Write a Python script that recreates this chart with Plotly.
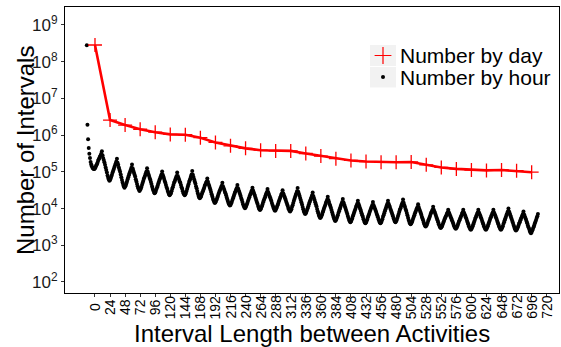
import plotly.graph_objects as go

# ---------------- data ----------------
# Number of intervals counted by day (x = interval length in hours, log10 of count)
day_x = [0, 24, 48, 72, 96, 120, 144, 168, 192, 216, 240, 264, 288, 312, 336,
         360, 384, 408, 432, 456, 480, 504, 528, 552, 576, 600, 624, 648, 672, 696]
day_log10 = [8.455, 6.41, 6.275, 6.16, 6.08, 6.02, 6.01, 5.93, 5.80, 5.71,
             5.64, 5.59, 5.57, 5.57, 5.50, 5.43, 5.36, 5.31, 5.28, 5.26,
             5.26, 5.27, 5.19, 5.12, 5.08, 5.05, 5.04, 5.05, 5.03, 4.99]

# Number of intervals counted by hour (log10 of count), one row per day, 24 hours each
hour_log10_by_day = [
    [8.45, 6.28, 5.89, 5.65, 5.49, 5.38, 5.27, 5.20, 5.15, 5.11, 5.09, 5.08, 5.08, 5.10, 5.13, 5.17, 5.21, 5.25, 5.30, 5.34, 5.38, 5.42, 5.45, 5.49],
    [5.56, 5.45, 5.38, 5.32, 5.26, 5.19, 5.12, 5.05, 4.98, 4.90, 4.84, 4.79, 4.76, 4.78, 4.82, 4.87, 4.92, 4.98, 5.03, 5.08, 5.13, 5.18, 5.23, 5.28],
    [5.36, 5.25, 5.19, 5.12, 5.06, 5.00, 4.93, 4.85, 4.78, 4.71, 4.65, 4.60, 4.57, 4.60, 4.63, 4.68, 4.74, 4.80, 4.85, 4.91, 4.96, 5.01, 5.06, 5.11],
    [5.20, 5.10, 5.04, 4.98, 4.93, 4.87, 4.80, 4.74, 4.67, 4.61, 4.55, 4.51, 4.48, 4.51, 4.54, 4.59, 4.65, 4.70, 4.76, 4.82, 4.86, 4.91, 4.96, 5.01],
    [5.10, 5.01, 4.95, 4.90, 4.84, 4.79, 4.73, 4.67, 4.60, 4.54, 4.49, 4.45, 4.42, 4.44, 4.48, 4.53, 4.58, 4.63, 4.69, 4.74, 4.79, 4.83, 4.88, 4.93],
    [5.01, 4.92, 4.87, 4.82, 4.76, 4.71, 4.65, 4.59, 4.54, 4.48, 4.43, 4.39, 4.36, 4.39, 4.42, 4.47, 4.53, 4.58, 4.64, 4.70, 4.74, 4.79, 4.84, 4.89],
    [4.98, 4.89, 4.84, 4.79, 4.74, 4.70, 4.64, 4.58, 4.53, 4.47, 4.42, 4.39, 4.36, 4.39, 4.43, 4.48, 4.54, 4.60, 4.66, 4.72, 4.77, 4.82, 4.88, 4.93],
    [5.02, 4.92, 4.86, 4.80, 4.74, 4.68, 4.61, 4.55, 4.48, 4.41, 4.35, 4.31, 4.28, 4.30, 4.33, 4.38, 4.43, 4.47, 4.52, 4.57, 4.62, 4.66, 4.70, 4.74],
    [4.82, 4.73, 4.67, 4.62, 4.57, 4.51, 4.45, 4.39, 4.33, 4.27, 4.22, 4.18, 4.15, 4.17, 4.21, 4.25, 4.30, 4.35, 4.40, 4.45, 4.49, 4.54, 4.58, 4.62],
    [4.70, 4.61, 4.56, 4.51, 4.46, 4.42, 4.36, 4.30, 4.25, 4.19, 4.14, 4.11, 4.08, 4.10, 4.14, 4.18, 4.23, 4.28, 4.33, 4.38, 4.43, 4.47, 4.52, 4.56],
    [4.64, 4.55, 4.50, 4.45, 4.40, 4.35, 4.29, 4.24, 4.18, 4.12, 4.07, 4.04, 4.01, 4.03, 4.07, 4.11, 4.16, 4.21, 4.26, 4.31, 4.36, 4.40, 4.45, 4.49],
    [4.57, 4.49, 4.44, 4.39, 4.34, 4.29, 4.23, 4.18, 4.13, 4.07, 4.02, 3.98, 3.96, 3.98, 4.02, 4.06, 4.11, 4.17, 4.22, 4.27, 4.31, 4.36, 4.41, 4.45],
    [4.53, 4.45, 4.40, 4.35, 4.31, 4.26, 4.21, 4.15, 4.10, 4.05, 4.00, 3.96, 3.94, 3.96, 4.00, 4.04, 4.09, 4.14, 4.19, 4.24, 4.29, 4.33, 4.38, 4.42],
    [4.50, 4.42, 4.37, 4.33, 4.28, 4.23, 4.18, 4.13, 4.08, 4.02, 3.98, 3.94, 3.92, 3.95, 3.98, 4.04, 4.09, 4.15, 4.21, 4.27, 4.32, 4.37, 4.42, 4.47],
    [4.56, 4.46, 4.40, 4.35, 4.29, 4.23, 4.17, 4.11, 4.04, 3.98, 3.92, 3.88, 3.85, 3.87, 3.91, 3.96, 4.01, 4.06, 4.12, 4.17, 4.22, 4.26, 4.31, 4.36],
    [4.44, 4.34, 4.29, 4.23, 4.17, 4.12, 4.06, 3.99, 3.93, 3.87, 3.81, 3.77, 3.74, 3.76, 3.80, 3.84, 3.90, 3.95, 4.00, 4.05, 4.10, 4.15, 4.19, 4.24],
    [4.32, 4.23, 4.18, 4.12, 4.07, 4.02, 3.96, 3.90, 3.84, 3.78, 3.73, 3.69, 3.66, 3.68, 3.72, 3.77, 3.82, 3.88, 3.93, 3.98, 4.03, 4.08, 4.13, 4.18],
    [4.26, 4.17, 4.12, 4.07, 4.02, 3.97, 3.91, 3.86, 3.80, 3.74, 3.69, 3.66, 3.63, 3.65, 3.69, 3.73, 3.79, 3.84, 3.89, 3.94, 3.99, 4.04, 4.08, 4.13],
    [4.21, 4.13, 4.08, 4.03, 3.98, 3.93, 3.87, 3.82, 3.77, 3.71, 3.66, 3.62, 3.60, 3.62, 3.66, 3.70, 3.76, 3.81, 3.86, 3.91, 3.96, 4.01, 4.05, 4.10],
    [4.18, 4.10, 4.05, 4.01, 3.96, 3.91, 3.86, 3.81, 3.76, 3.70, 3.66, 3.62, 3.60, 3.62, 3.66, 3.71, 3.77, 3.82, 3.87, 3.93, 3.98, 4.03, 4.08, 4.13],
    [4.21, 4.13, 4.08, 4.04, 3.99, 3.94, 3.89, 3.84, 3.79, 3.73, 3.69, 3.65, 3.63, 3.66, 3.69, 3.74, 3.80, 3.85, 3.91, 3.97, 4.01, 4.06, 4.11, 4.16],
    [4.25, 4.16, 4.10, 4.05, 3.99, 3.94, 3.88, 3.82, 3.75, 3.69, 3.64, 3.60, 3.57, 3.59, 3.63, 3.67, 3.72, 3.77, 3.82, 3.87, 3.91, 3.96, 4.00, 4.04],
    [4.12, 4.04, 3.99, 3.94, 3.89, 3.84, 3.78, 3.73, 3.68, 3.62, 3.57, 3.53, 3.51, 3.53, 3.56, 3.61, 3.66, 3.70, 3.75, 3.80, 3.85, 3.89, 3.93, 3.97],
    [4.05, 3.97, 3.92, 3.88, 3.83, 3.78, 3.73, 3.68, 3.63, 3.57, 3.53, 3.49, 3.47, 3.49, 3.52, 3.56, 3.61, 3.65, 3.70, 3.74, 3.78, 3.82, 3.86, 3.90],
    [3.97, 3.90, 3.86, 3.81, 3.77, 3.73, 3.68, 3.64, 3.59, 3.54, 3.50, 3.47, 3.45, 3.47, 3.50, 3.54, 3.59, 3.64, 3.68, 3.73, 3.77, 3.81, 3.86, 3.90],
    [3.97, 3.89, 3.85, 3.81, 3.76, 3.72, 3.67, 3.62, 3.57, 3.52, 3.48, 3.44, 3.42, 3.44, 3.48, 3.52, 3.57, 3.62, 3.67, 3.72, 3.76, 3.81, 3.85, 3.89],
    [3.97, 3.89, 3.85, 3.81, 3.76, 3.72, 3.67, 3.62, 3.57, 3.52, 3.48, 3.44, 3.42, 3.44, 3.48, 3.52, 3.57, 3.62, 3.67, 3.72, 3.76, 3.81, 3.85, 3.89],
    [3.97, 3.89, 3.85, 3.81, 3.76, 3.72, 3.67, 3.62, 3.57, 3.52, 3.48, 3.44, 3.42, 3.44, 3.48, 3.52, 3.58, 3.63, 3.68, 3.73, 3.78, 3.83, 3.87, 3.92],
    [4.00, 3.92, 3.87, 3.82, 3.77, 3.72, 3.67, 3.62, 3.56, 3.51, 3.46, 3.42, 3.40, 3.42, 3.45, 3.49, 3.54, 3.59, 3.63, 3.68, 3.72, 3.76, 3.81, 3.85],
    [3.92, 3.84, 3.79, 3.74, 3.70, 3.65, 3.60, 3.54, 3.49, 3.44, 3.39, 3.35, 3.33, 3.36, 3.40, 3.44, 3.49, 3.54, 3.59, 3.64, 3.69, 3.74, 3.79, 3.85],
]
HOUR_SHIFT = -13  # hourly series is drawn slightly left of the daily one in the original

x_tick_values = [0, 24, 48, 72, 96, 120, 144, 168, 192, 216, 240, 264, 288, 312, 336,
                 360, 384, 408, 432, 456, 480, 504, 528, 552, 576, 600, 624, 648, 672, 696, 720]
y_tick_exponents = [2, 3, 4, 5, 6, 7, 8, 9]

series_names = ["Number by day", "Number by hour"]
x_title = "Interval Length between Activities"
y_title = "Number of Intervals"

# ---------------- derived ----------------
hour_vals = [v for row in hour_log10_by_day for v in row]
hour_x = [h + HOUR_SHIFT for h in range(len(hour_vals))]
hour_y = [10 ** v for v in hour_vals]
day_y = [10 ** v for v in day_log10]

FONT = "Liberation Sans, Arial, Helvetica, sans-serif"
W, H = 561, 347
ML, MR, MT, MB = 65, 2, 7, 54
PW, PH = W - ML - MR, H - MT - MB


def px_x(px):
    return (px - ML) / PW


def px_y(py):
    return (H - MB - py) / PH


fig = go.Figure()

fig.add_trace(go.Scatter(
    x=hour_x, y=hour_y, mode="markers",
    marker=dict(color="black", size=4, line=dict(width=0)),
    showlegend=False, name=series_names[1],
))
fig.add_trace(go.Scatter(
    x=day_x, y=day_y, mode="lines+markers",
    line=dict(color="#FF0000", width=2.6),
    marker=dict(symbol="cross-thin", size=10, line=dict(color="#FF0000", width=1.3)),
    showlegend=False, name=series_names[0],
))

# legend keys (drawn on an overlay 0..1 axis pair)
fig.add_trace(go.Scatter(
    x=[px_x(383)], y=[px_y(55.5)], xaxis="x2", yaxis="y2", mode="markers",
    marker=dict(symbol="cross-thin", size=12, line=dict(color="#FF0000", width=1.2)),
    showlegend=False, hoverinfo="skip", cliponaxis=False,
))
fig.add_trace(go.Scatter(
    x=[px_x(383)], y=[px_y(77)], xaxis="x2", yaxis="y2", mode="markers",
    marker=dict(color="black", size=4),
    showlegend=False, hoverinfo="skip", cliponaxis=False,
))

shapes = [
    dict(type="rect", xref="paper", yref="paper", x0=px_x(370), x1=px_x(396),
         y0=px_y(66), y1=px_y(45), fillcolor="#F2F2F2", line=dict(width=0), layer="below"),
    dict(type="rect", xref="paper", yref="paper", x0=px_x(370), x1=px_x(396),
         y0=px_y(87.5), y1=px_y(67), fillcolor="#F2F2F2", line=dict(width=0), layer="below"),
]

annotations = []
for v in x_tick_values:
    annotations.append(dict(
        x=v, xref="x", y=px_y(307), yref="paper", text=str(v), textangle=-90,
        showarrow=False, xanchor="center", yanchor="middle",
        font=dict(family=FONT, size=14, color="black"),
    ))
annotations.append(dict(
    x=0.5, xref="paper", y=px_y(333), yref="paper", text=x_title, showarrow=False,
    xanchor="center", yanchor="middle", font=dict(family=FONT, size=24, color="black"),
))
annotations.append(dict(
    x=px_x(25), xref="paper", y=px_y(151), yref="paper", text=y_title, textangle=-90,
    showarrow=False, xanchor="center", yanchor="middle",
    font=dict(family=FONT, size=24, color="black"),
))
for name, cy in zip(series_names, [55.5, 77]):
    annotations.append(dict(
        x=px_x(398), xref="paper", y=px_y(cy), yref="paper", text=name, showarrow=False,
        xanchor="left", yanchor="middle", font=dict(family=FONT, size=21, color="black"),
    ))

fig.update_layout(
    width=W, height=H, autosize=False,
    margin=dict(l=ML, r=MR, t=MT, b=MB, pad=0),
    paper_bgcolor="white", plot_bgcolor="white",
    font=dict(family=FONT, color="black"),
    showlegend=False,
    shapes=shapes, annotations=annotations,
    xaxis=dict(
        range=[-47.8, 739.6], tickmode="array", tickvals=x_tick_values,
        showticklabels=False, ticks="outside", ticklen=3, tickcolor="#333333",
        showgrid=False, zeroline=False, showline=True, mirror=True,
        linecolor="black", linewidth=1,
    ),
    yaxis=dict(
        type="log", range=[1.70, 9.49], tickmode="array",
        tickvals=[10 ** e for e in y_tick_exponents],
        ticktext=["10<sup>%d</sup>" % e for e in y_tick_exponents],
        ticks="outside", ticklen=3, tickcolor="#333333",
        tickfont=dict(family=FONT, size=17, color="#1a1a1a"),
        showgrid=False, zeroline=False, showline=True, mirror=True,
        linecolor="black", linewidth=1,
    ),
    xaxis2=dict(overlaying="x", range=[0, 1], visible=False, fixedrange=True,
                showticklabels=False, showgrid=False, zeroline=False, ticks=""),
    yaxis2=dict(overlaying="y", range=[0, 1], visible=False, fixedrange=True,
                showticklabels=False, showgrid=False, zeroline=False, ticks=""),
)

fig.write_html("out.html")
